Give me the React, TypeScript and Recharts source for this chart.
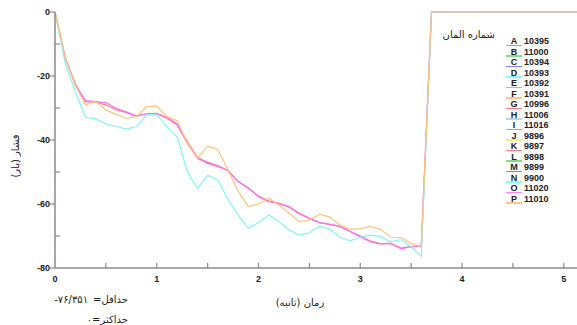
import { LineChart, Line, XAxis, YAxis } from "recharts";

// time axis (s), one sample every 0.1 s
const TIME = [
  0, 0.1, 0.2, 0.3, 0.4, 0.5, 0.6, 0.7, 0.8, 0.9, 1.0, 1.1, 1.2, 1.3, 1.4, 1.5, 1.6, 1.7, 1.8,
  1.9, 2.0, 2.1, 2.2, 2.3, 2.4, 2.5, 2.6, 2.7, 2.8, 2.9, 3.0, 3.1, 3.2, 3.3, 3.4, 3.5, 3.6,
  3.7, 3.8, 3.9, 4.0, 4.1, 4.2, 4.3, 4.4, 4.5, 4.6, 4.7, 4.8, 4.9, 5.0, 5.1, 5.2,
];

// after the valve closes every element reads 0 again
const AFTER = [0, 0, 0, 0, 0, 0, 0, 0, 0, 0, 0, 0, 0, 0, 0, 0];

const A_10395 = [
  0, -14.5, -22.5, -28, -28.2, -29, -30.5, -31.5, -32.5, -31.8, -31.7, -33, -35, -40.5, -45.5,
  -47, -48, -49.5, -53, -55, -57.5, -59, -59.8, -61, -63, -64.5, -65.8, -66.4, -67, -68.5, -70,
  -71.6, -72.4, -72.3, -73.8, -73.3, -73.2, ...AFTER,
];
const D_10393 = [
  0, -16, -24.9, -32.9, -33.4, -35, -35.7, -36.6, -35.8, -32.2, -32, -36, -39, -49.9, -55.1, -51,
  -52.5, -58.5, -63.4, -67.6, -65.8, -63.4, -65.5, -68.1, -69.7, -69, -66.9, -67.8, -70.4, -71.5,
  -70.4, -69.7, -70.2, -71.8, -71.1, -73.3, -76.35, ...AFTER,
];
const F_10391 = [
  0, -14, -23, -29, -28, -30.6, -32, -33.2, -32.7, -29.6, -29.4, -32.7, -34, -41, -45.7, -41.9,
  -43, -49.4, -56, -60.8, -60, -58.2, -60.3, -62.9, -65.5, -65, -63.2, -64.1, -66.6, -67.9,
  -67.7, -67, -68, -70.4, -70.5, -72.3, -73.5, ...AFTER,
];
const E_10392 = [
  0, -14, -23, -27.7, -28, -28.3, -30.1, -31.2, -32.5, -31.8, -31.8, -33.2, -35.3, -41, -45.7,
  -47.3, -48.3, -49.6, -53, -55.1, -57.7, -59.3, -59.8, -60.8, -62.9, -64.5, -65.8, -66.3, -67,
  -68.6, -70.2, -71.8, -72.5, -72.3, -74, -73.3, -73, ...AFTER,
];

const LEGEND_KEYS = ["A", "B", "C", "D", "E", "F", "G", "H", "I", "J", "K", "L", "M", "N", "O", "P"];
const LEGEND_IDS = [
  "10395", "11000", "10394", "10393", "10392", "10391", "10996", "11006", "11016", "9896",
  "9897", "9898", "9899", "9900", "11020", "11010",
];
const LEGEND_COLORS = [
  "#ff8080", "#80e080", "#8080ff", "#80ffff", "#ff80ff", "#ffc880", "#ff8080", "#a8d8ff",
  "#88b898", "#f0f080", "#ff8080", "#80e080", "#8080ff", "#80ffff", "#ff80ff", "#ffc880",
];

const X_TICKS = [0, 0.5, 1, 1.5, 2, 2.5, 3, 3.5, 4, 4.5, 5];
const Y_TICKS = [0, -10, -20, -30, -40, -50, -60, -70, -80];

const rows = TIME.map((t, i) => ({
  t,
  a: A_10395[i],
  d: D_10393[i],
  e: E_10392[i],
  f: F_10391[i],
}));

const AXIS = "#8a8a8a";
const TICK_FONT = "'Liberation Sans', Arial, sans-serif";
const FA_FONT = "'DejaVu Sans', sans-serif";

const BottomTick = ({ x, y, payload }: any) => {
  const v = payload.value;
  const major = Number.isInteger(v);
  return (
    <g>
      {v !== 0 && <line x1={x} x2={x} y1={y} y2={y - 5} stroke={AXIS} strokeWidth={1.2} />}
      {major && (
        <text x={x} y={y + 14} textAnchor="middle" fontSize={9} fontWeight="bold" fontFamily={TICK_FONT} fill="#222">
          {v}
        </text>
      )}
    </g>
  );
};

const TopTick = ({ x, y }: any) => (
  <line x1={x} x2={x} y1={y} y2={y + 5} stroke={AXIS} strokeWidth={1.2} />
);

const LeftTick = ({ x, y, payload }: any) => {
  const v = payload.value;
  const major = v % 20 === 0;
  return (
    <g>
      {major ? (
        <line x1={x - 5} x2={x} y1={y} y2={y} stroke={AXIS} strokeWidth={1.2} />
      ) : (
        <line x1={x} x2={x + 5} y1={y} y2={y} stroke={AXIS} strokeWidth={1.2} />
      )}
      {major && (
        <text x={x - 5} y={y + 3} textAnchor="end" fontSize={9} fontWeight="bold" fontFamily={TICK_FONT} fill="#222">
          {v}
        </text>
      )}
    </g>
  );
};

const RightTick = ({ x, y, payload }: any) =>
  payload.value % 20 === 0 && payload.value !== 0 && payload.value !== -80 ? (
    <line x1={x - 5} x2={x} y1={y} y2={y} stroke={AXIS} strokeWidth={1.2} />
  ) : (
    <g />
  );

const faLine = (top: number): React.CSSProperties => ({
  position: "absolute",
  right: 577 - 128,
  top: top - 7,
  height: 14,
  display: "flex",
  alignItems: "center",
  fontFamily: FA_FONT,
  fontSize: 10,
  color: "#222",
  whiteSpace: "nowrap",
});

export default function App() {
  return (
    <div
      style={{
        position: "absolute",
        left: 0,
        top: 0,
        width: 577,
        height: 325,
        background: "#fff",
        overflow: "hidden",
      }}
    >
      <LineChart width={577} height={325} data={rows} margin={{ top: 12, right: 0, bottom: 0, left: 0 }}>
        <XAxis
          xAxisId="b"
          dataKey="t"
          type="number"
          domain={[0, 5.13]}
          allowDataOverflow
          ticks={X_TICKS}
          interval={0}
          tick={BottomTick}
          tickLine={false}
          tickSize={0}
          tickMargin={0}
          height={57}
          stroke={AXIS}
          strokeWidth={1.5}
        />
        <XAxis
          xAxisId="t"
          orientation="top"
          dataKey="t"
          type="number"
          domain={[0, 5.13]}
          allowDataOverflow
          ticks={[1, 2, 3, 4, 5]}
          interval={0}
          tick={TopTick}
          tickLine={false}
          tickSize={0}
          tickMargin={0}
          height={0}
          stroke={AXIS}
          strokeWidth={1.5}
        />
        <YAxis
          yAxisId="l"
          type="number"
          domain={[-80, 0]}
          ticks={Y_TICKS}
          interval={0}
          tick={LeftTick}
          tickLine={false}
          tickSize={0}
          tickMargin={0}
          width={55}
          stroke={AXIS}
          strokeWidth={1.5}
        />
        <YAxis
          yAxisId="r"
          orientation="right"
          type="number"
          domain={[-80, 0]}
          ticks={Y_TICKS}
          interval={0}
          tick={RightTick}
          tickLine={false}
          tickSize={0}
          tickMargin={0}
          width={0}
          stroke={AXIS}
          strokeWidth={1.5}
        />
        <Line xAxisId="b" yAxisId="l" dataKey="a" stroke="#ff8080" strokeWidth={1.2} dot={false} isAnimationActive={false} />
        <Line xAxisId="b" yAxisId="l" dataKey="e" stroke="#ff6cff" strokeWidth={1.2} dot={false} isAnimationActive={false} />
        <Line xAxisId="b" yAxisId="l" dataKey="d" stroke="#7ff6f6" strokeWidth={1.2} dot={false} isAnimationActive={false} />
        <Line xAxisId="b" yAxisId="l" dataKey="f" stroke="#ffc47a" strokeWidth={1.2} dot={false} isAnimationActive={false} />
      </LineChart>

      {/* y axis title */}
      <div
        style={{
          position: "absolute",
          left: 15,
          top: 156,
          transform: "translate(-50%, -50%) rotate(-90deg)",
          fontFamily: FA_FONT,
          fontSize: 10,
          color: "#222",
          whiteSpace: "nowrap",
          direction: "rtl",
        }}
      >
        فشار (بار)
      </div>

      {/* x axis title */}
      <div
        style={{
          position: "absolute",
          left: 300,
          top: 302,
          transform: "translate(-50%, -50%)",
          fontFamily: FA_FONT,
          fontSize: 10,
          color: "#222",
          whiteSpace: "nowrap",
          direction: "rtl",
        }}
      >
        زمان (ثانیه)
      </div>

      {/* min / max notes: number on the left, word on the right */}
      <div style={faLine(299)}>
        <span>-۷۶/۳۵۱</span>
        <span style={{ marginLeft: 5 }}>=</span>
        <span>حداقل</span>
      </div>
      <div style={faLine(319)}>
        <span>۰</span>
        <span>=</span>
        <span>حداکثر</span>
      </div>

      {/* legend */}
      <div
        style={{
          position: "absolute",
          left: 495,
          top: 34,
          transform: "translate(-100%, -50%)",
          fontFamily: FA_FONT,
          fontSize: 10,
          color: "#222",
          whiteSpace: "nowrap",
          direction: "rtl",
        }}
      >
        شماره المان
      </div>
      {LEGEND_KEYS.map((k, i) => (
        <div
          key={k}
          style={{
            position: "absolute",
            left: 506,
            top: 41 + i * 10.53 - 5,
            height: 10,
            display: "flex",
            alignItems: "center",
            fontFamily: TICK_FONT,
            fontSize: 9,
            fontWeight: "bold",
            color: "#222",
          }}
        >
          <span style={{ position: "relative", width: 16, textAlign: "center", lineHeight: "10px" }}>
            {k}
            <span
              style={{
                position: "absolute",
                left: 0,
                right: 0,
                bottom: 0,
                height: 1.5,
                background: LEGEND_COLORS[i],
              }}
            />
          </span>
          <span style={{ marginLeft: 2, lineHeight: "10px" }}>{LEGEND_IDS[i]}</span>
        </div>
      ))}
    </div>
  );
}
